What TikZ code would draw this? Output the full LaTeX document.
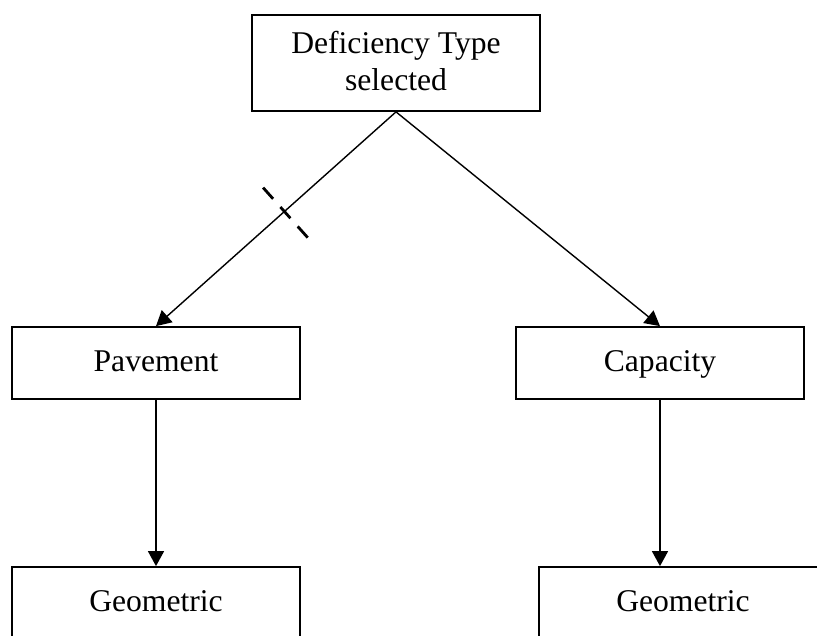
\documentclass[tikz,border=0pt]{standalone}
\usepackage{fontspec}
\setmainfont{Liberation Serif}
\usepackage{tikz}
\usetikzlibrary{arrows.meta,calc}

\begin{document}
\begin{tikzpicture}[
		box_style/.style={rectangle,draw=black,line width=1pt,fill=white,minimum width=5.76cm,
			align=center,inner sep=0pt,text depth=0.25em,font=\fontsize{18pt}{21pt}\selectfont},
		edge_style/.style={draw=black,line width=0.8pt,-{Triangle[length=0.3cm,width=0.32cm]}},
		cut_style/.style={draw=black,line width=1.6pt,dash pattern=on 0.3cm off 0.22cm}]
		
		\useasboundingbox (0,0) rectangle (16.34,-12.7);
		
		\node[box_style,minimum height=1.92cm] (type) at (7.92,-1.26)  {Deficiency Type\\selected};
		\node[box_style,minimum height=1.44cm] (pav)  at (3.12,-7.26)  {Pavement};
		\node[box_style,minimum height=1.44cm] (cap)  at (13.2,-7.26)  {Capacity};
		\node[box_style,minimum height=1.44cm] (geoL) at (3.12,-12.06) {Geometric};
		\node[box_style,minimum height=1.44cm] (geoR) at (13.66,-12.06) {Geometric};
		
		\draw[edge_style]  (type.south) -- coordinate[pos=0.465] (cut) (pav.north);
		\draw[edge_style]  (type.south) -- (cap.north);
		\draw[edge_style]  (pav.south) -- (geoL.north);
		\draw[edge_style]  (cap.south) -- (cap.south |- geoR.north);
		
		% crossing mark on the left branch
		\draw[cut_style]  ($(cut)!0.7cm!90:(pav.north)$) -- ($(cut)!0.7cm!-90:(pav.north)$);
		
\end{tikzpicture}
\end{document}
